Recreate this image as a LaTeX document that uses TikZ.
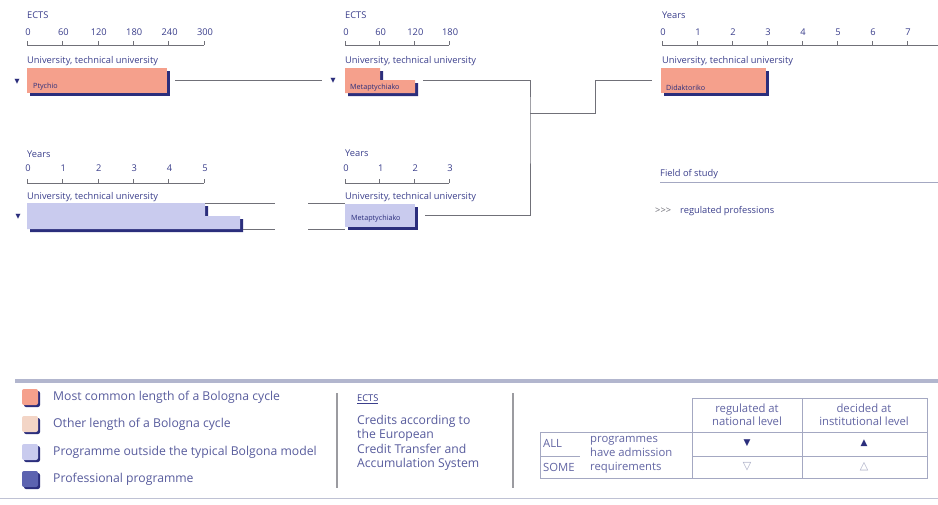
\documentclass[tikz,border=0pt]{standalone}
\usepackage{fontspec}
\setmainfont{Open Sans}
\newfontfamily\symfont{DejaVu Sans}
\usetikzlibrary{positioning, calc, shadows}
\definecolor{cnavy}{HTML}{2B2E7C}
\definecolor{ctext}{HTML}{3B3F8C}
\definecolor{cgray}{HTML}{707078}
\definecolor{clight}{HTML}{A4A8C2}
\definecolor{cband}{HTML}{B2B6CE}
\definecolor{csalmon}{HTML}{F5A08C}
\definecolor{cpeach}{HTML}{F3D5C6}
\definecolor{clav}{HTML}{C9CBEE}
\definecolor{cprof}{HTML}{5C63B0}

\tikzset{
  tiny/.style={font=\fontsize{9.3}{10}\selectfont, text=ctext, inner sep=0pt},
  boxlbl/.style={font=\fontsize{7.2}{8}\selectfont, text=cnavy, inner sep=0pt, anchor=south west},
  leg/.style={font=\fontsize{12.2}{14}\selectfont, text=ctext!85, inner sep=0pt, anchor=west},
  tbl/.style={font=\fontsize{11.3}{13}\selectfont, text=ctext!80, inner sep=0pt},
  axis/.style={cgray, line width=0.6pt},
  link/.style={cgray, line width=0.8pt},
  bolbox/.style={fill=#1, minimum height=25pt, inner sep=0pt, anchor=north west,
    drop shadow={shadow xshift=3pt, shadow yshift=-3pt, fill=cnavy, opacity=1}},
  tri/.style={font=\symfont\fontsize{6.5}{6}\selectfont, text=cnavy, inner sep=0pt},
  swatch/.style={fill=#1, minimum size=16pt, rounded corners=2pt, inner sep=0pt,
    drop shadow={shadow xshift=2pt, shadow yshift=-2pt, fill=cnavy, opacity=1}},
}

\begin{document}
\begin{tikzpicture}[x=1pt, y=-1pt]
  \fill[white] (0,0) rectangle (938,504);
  \useasboundingbox (0,0) rectangle (938,504);

  % ECTS scale, first cycle
  \node[tiny, anchor=west] (t1) at (27,15) {ECTS};
  \draw[axis] (27,45) -- (204,45);
  \foreach \v [count=\i from 0] in {0,60,120,180,240,300}{
    \draw[axis] (27+35.4*\i,45) -- ++(0,-4);
    \node[tiny] (a1-\i) at (28+35.4*\i,32) {\v};
  }
  \node[tiny, anchor=west] (u1) at (27,61) {University, technical university};
  \node[tri] (tri1) at (17,82) {▼};
  \node[bolbox=csalmon, minimum width=140pt] (ptychio) at (27,68) {};
  \node[boxlbl] (l1) at ([shift={(6pt,3pt)}]ptychio.south west) {Ptychio};

  % ECTS scale, second cycle
  \node[tiny, anchor=west] (t2) at (345,15) {ECTS};
  \draw[axis] (345,45) -- (449,45);
  \foreach \v [count=\i from 0] in {0,60,120,180}{
    \draw[axis] (345+34.7*\i,45) -- ++(0,-4);
    \node[tiny] (a2-\i) at (346+34.7*\i,32) {\v};
  }
  \node[tiny, anchor=west] (u2) at (345,61) {University, technical university};
  \node[tri] (tri2) at (333,81) {▼};
  \fill[cnavy, shift={(3pt,-3pt)}] (345,68) -- (380,68) -- (380,80) -- (415,80) -- (415,93) -- (345,93) -- cycle;
  \fill[csalmon] (345,68) -- (380,68) -- (380,80) -- (415,80) -- (415,93) -- (345,93) -- cycle;
  \coordinate (metaA) at (415,80);
  \node[boxlbl] (l2) at (350,91) {Metaptychiako};

  % Years scale, third cycle
  \node[tiny, anchor=west] (t3) at (662,15) {Years};
  \draw[axis] (662,45) -- (938,45);
  \foreach \v in {0,...,7}{
    \draw[axis] (662+35*\v,45) -- ++(0,-4);
    \node[tiny] (a3-\v) at (663+35*\v,32) {\v};
  }
  \node[tiny, anchor=west] (u3) at (662,61) {University, technical university};
  \node[bolbox=csalmon, minimum width=105pt] (didakt) at (661,68) {};
  \node[boxlbl] (l3) at ([shift={(5pt,3pt)}]didakt.south west) {Didaktoriko};

  % Years scale, long programme
  \node[tiny, anchor=west] (t4) at (27,154) {Years};
  \draw[axis] (27,183) -- (204,183);
  \foreach \v in {0,...,5}{
    \draw[axis] (27+35.4*\v,183) -- ++(0,-4);
    \node[tiny] (a4-\v) at (28+35.4*\v,168) {\v};
  }
  \node[tiny, anchor=west] (u4) at (27,197) {University, technical university};
  \node[tri] (tri4) at (18,217) {▼};
  \fill[cnavy, shift={(3pt,-3pt)}] (27,203) -- (205,203) -- (205,216) -- (240,216) -- (240,229) -- (27,229) -- cycle;
  \fill[clav] (27,203) -- (205,203) -- (205,216) -- (240,216) -- (240,229) -- (27,229) -- cycle;
  \coordinate (lowA-n) at (205,203);
  \coordinate (lowA-s) at (243,229);

  % Years scale, second cycle (outside model)
  \node[tiny, anchor=west] (t5) at (345,153) {Years};
  \draw[axis] (345,183) -- (449,183);
  \foreach \v in {0,...,3}{
    \draw[axis] (345+34.7*\v,183) -- ++(0,-4);
    \node[tiny] (a5-\v) at (346+34.7*\v,168) {\v};
  }
  \node[tiny, anchor=west] (u5) at (345,197) {University, technical university};
  \node[bolbox=clav, minimum width=70pt, minimum height=23pt] (metaB) at (345,204) {};
  \node[boxlbl] (l5) at ([shift={(6pt,5pt)}]metaB.south west) {Metaptychiako};

  % connectors
  \coordinate (jct) at (530,113);
  \coordinate (bend) at (595,113);
  \coordinate (gapN) at (308,203);
  \coordinate (gapS) at (308,229);
  \draw[link] ([xshift=8pt]ptychio.east) -- ([xshift=-8pt]tri2.west |- ptychio.east);
  \draw[link] ([xshift=8pt]metaA) -| (jct) |- ([xshift=10pt]metaB.east);
  \draw[link] (jct) -- (bend) |- ([xshift=-9pt]didakt.west);
  \draw[link] (lowA-n) -- ++(70,0);
  \draw[link] (lowA-s) -- ++(32,0);
  \draw[link] (gapN) -- (metaB.west |- gapN);
  \draw[link] (gapS) -- (metaB.west |- gapS);

  % field of study
  \node[tiny, anchor=west] (fos) at (660,174) {Field of study};
  \draw[clight, line width=0.8pt] (660,182) -- (938,182);
  \node[tiny, anchor=west, text=cgray] (gt) at (655,211) {{>}{>}{>}};
  \node[tiny, anchor=west] (reg) at (680,211) {regulated professions};

  % legend
  \draw[cband, line width=4pt] (15,381) -- (938,381);
  \draw[clight!70, line width=0.8pt] (0,498) -- (938,498);
  \draw[cgray!70, line width=1.2pt] (337,393) -- (337,488);
  \draw[cgray!70, line width=1.2pt] (513,393) -- (513,488);
  \node[swatch=csalmon] (sw1) at (30,397) {};
  \node[swatch=cpeach] (sw2) at (30,424) {};
  \node[swatch=clav] (sw3) at (30,452) {};
  \node[swatch=cprof] (sw4) at (30,479) {};
  \node[leg] (g1) at (53,397) {Most common length of a Bologna cycle};
  \node[leg] (g2) at (53,424) {Other length of a Bologna cycle};
  \node[leg] (g3) at (53,452) {Programme outside the typical Bolgona model};
  \node[leg] (g4) at (53,479) {Professional programme};
  \node[tiny, anchor=west] (ects) at (357,399) {\underline{ECTS}};
  \node[leg, anchor=north west, align=left, font=\fontsize{12.2}{14.5}\selectfont] (ectsdef) at (357,415)
    {Credits according to\\the European\\Credit Transfer and\\Accumulation System};

  % admission table
  \draw[clight, line width=0.6pt] (692,398) rectangle (927,432);
  \draw[clight, line width=0.6pt] (540,432) rectangle (927,478);
  \draw[clight, line width=0.6pt] (802,398) -- (802,478);
  \draw[clight, line width=0.6pt] (692,432) -- (692,478);
  \draw[clight, line width=0.6pt] (540,456) -- (580,456);
  \draw[clight, line width=0.6pt] (692,456) -- (927,456);
  \node[tbl, align=center] (h1) at (747,415) {regulated at\\national level};
  \node[tbl, align=center] (h2) at (864,415) {decided at\\institutional level};
  \node[tbl, anchor=west] (all) at (543,443) {ALL};
  \node[tbl, anchor=west] (some) at (543,467) {SOME};
  \node[tbl, anchor=west, align=left, font=\fontsize{11.3}{14}\selectfont] (prog) at (590,455)
    {programmes\\have admission\\requirements};
  \node[tri, font=\symfont\fontsize{9}{9}\selectfont] (s1) at (747,443) {▼};
  \node[tri, font=\symfont\fontsize{9}{9}\selectfont] (s2) at (864,443) {▲};
  \node[tri, font=\symfont\fontsize{11}{11}\selectfont, text=clight] (s3) at (747,467) {▽};
  \node[tri, font=\symfont\fontsize{11}{11}\selectfont, text=clight] (s4) at (864,467) {△};
\end{tikzpicture}
\end{document}
